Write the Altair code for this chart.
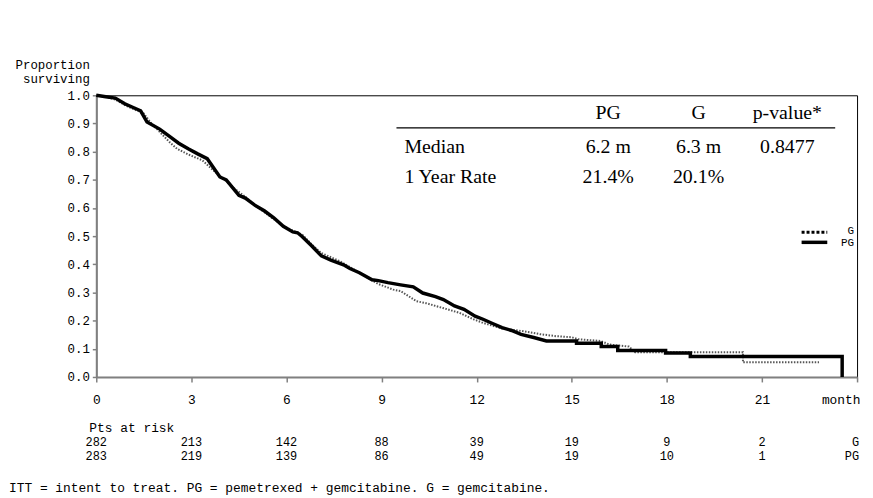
import altair as alt
import pandas as pd

# ---------------- data ----------------
pg_months = [0, 0.3, 0.6, 0.9, 1.2, 1.4, 1.6, 2.0, 2.3, 2.6, 2.9, 3.2, 3.5, 3.9, 4.1, 4.5,
             4.7, 5.0, 5.3, 5.6, 5.9, 6.2, 6.35, 6.5, 6.8, 7.1, 7.4, 7.8, 8.0, 8.3, 8.7, 8.9,
             9.2, 9.6, 10.0, 10.3, 10.7, 10.95, 11.3, 11.6, 11.95, 12.2, 12.5, 12.8, 13.1,
             13.4, 13.8, 14.2, 15.15, 15.15, 15.93, 15.93, 16.45, 16.45, 17.96, 17.96,
             18.74, 18.74, 23.53, 23.53]
pg_surv = [1.0, 0.995, 0.99, 0.97, 0.955, 0.945, 0.905, 0.88, 0.855, 0.83, 0.81, 0.792,
           0.775, 0.71, 0.70, 0.645, 0.635, 0.61, 0.59, 0.565, 0.535, 0.515, 0.512, 0.498,
           0.465, 0.43, 0.415, 0.398, 0.385, 0.37, 0.345, 0.342, 0.335, 0.327, 0.32, 0.298,
           0.285, 0.275, 0.252, 0.24, 0.216, 0.205, 0.19, 0.175, 0.165, 0.151, 0.14, 0.128,
           0.128, 0.12, 0.12, 0.108, 0.108, 0.094, 0.094, 0.085, 0.085, 0.073, 0.073, 0.0]

g_months = [0, 0.3, 0.6, 0.9, 1.2, 1.5, 1.7, 2.0, 2.3, 2.55, 2.9, 3.35, 3.7, 4.1, 4.4,
            4.7, 5.0, 5.3, 5.6, 5.9, 6.2, 6.5, 6.8, 7.1, 7.4, 7.7, 8.0, 8.3, 8.6, 8.9, 9.37,
            9.6, 10.1, 10.4, 10.93, 11.45, 11.9, 12.2, 12.5, 12.8, 13.1, 13.43, 14.0, 14.5,
            15.0, 15.2, 15.9, 16.2, 16.8, 17.0, 20.4, 20.4, 22.8]
g_surv = [1.0, 0.995, 0.985, 0.965, 0.95, 0.935, 0.905, 0.87, 0.835, 0.81, 0.79, 0.769,
          0.733, 0.695, 0.665, 0.64, 0.61, 0.585, 0.56, 0.535, 0.52, 0.505, 0.47, 0.44,
          0.425, 0.41, 0.39, 0.37, 0.35, 0.33, 0.31, 0.305, 0.269, 0.262, 0.245, 0.228,
          0.205, 0.192, 0.182, 0.172, 0.168, 0.163, 0.152, 0.145, 0.141, 0.134, 0.128,
          0.115, 0.108, 0.088, 0.088, 0.052, 0.052]

x_ticks = [0, 3, 6, 9, 12, 15, 18, 21, 24]
y_ticks = [0.0, 0.1, 0.2, 0.3, 0.4, 0.5, 0.6, 0.7, 0.8, 0.9, 1.0]

risk_months = [0, 3, 6, 9, 12, 15, 18, 21]
risk_g = [282, 213, 142, 88, 39, 19, 9, 2]
risk_pg = [283, 219, 139, 86, 49, 19, 10, 1]

table_header = ["PG", "G", "p-value*"]
table_median = ["6.2 m", "6.3 m", "0.8477"]
table_rate = ["21.4%", "20.1%", ""]
row_labels = ["Median", "1 Year Rate"]

legend_labels = ["G", "PG"]
footnote = "ITT = intent to treat. PG = pemetrexed + gemcitabine. G = gemcitabine."

# ---------------- layout constants ----------------
MONO = "Liberation Mono"
SERIF = "Liberation Serif"
col_x = [16.15, 19.0, 21.8]
label_x = 9.72
row_y = [0.937, 0.817, 0.711]
rule_y = 0.884
rule_x = (9.47, 23.31)

xs = alt.Scale(domain=[0, 24], nice=False, zero=False)
ys = alt.Scale(domain=[0, 1], nice=False, zero=False)

x_axis = alt.Axis(
    values=x_ticks, title=None, grid=False,
    labelExpr="datum.value == 24 ? 'month' : datum.label",
    labelAlign={"condition": {"test": "datum.value == 24", "value": "right"}, "value": "center"},
    labelOffset={"condition": {"test": "datum.value == 24", "value": 3}, "value": 0},
    labelFont=MONO, labelFontSize=13, labelColor="black", labelPadding=12,
    labelFlush=False, labelOverlap=False,
    tickSize=5, tickColor="#808080", tickWidth=1.5,
    domainColor="#808080", domainWidth=2,
)
y_axis = alt.Axis(
    values=y_ticks, format=".1f", grid=False,
    title=["Proportion", "surviving"], titleAngle=0, titleAlign="right",
    titleBaseline="top", titleX=-7, titleY=-37, titleFont=MONO, titleFontSize=12.5,
    titleFontWeight="normal", titleColor="black", titleLineHeight=14.5,
    labelFont=MONO, labelFontSize=12.5, labelColor="black", labelPadding=3,
    labelFlush=False, labelOverlap=False,
    tickSize=4, tickColor="#808080", tickWidth=1.5,
    domainColor="#808080", domainWidth=2,
)


def X(field):
    return alt.X(field, scale=xs, axis=x_axis)


def Y(field):
    return alt.Y(field, scale=ys, axis=y_axis)


pg_df = pd.DataFrame({"m": pg_months, "s": pg_surv})
g_df = pd.DataFrame({"m": g_months, "s": g_surv})

g_line = alt.Chart(g_df).mark_line(
    color="#555555", strokeWidth=2, strokeDash=[1.5, 1.5]
).encode(x=X("m:Q"), y=Y("s:Q"))
pg_line = alt.Chart(pg_df).mark_line(
    color="black", strokeWidth=3.5, strokeJoin="miter"
).encode(x=X("m:Q"), y=Y("s:Q"))

# table
rows = []
for i in range(3):
    rows.append({"x": col_x[i], "y": row_y[0], "t": table_header[i]})
    rows.append({"x": col_x[i], "y": row_y[1], "t": table_median[i]})
    rows.append({"x": col_x[i], "y": row_y[2], "t": table_rate[i]})
tab_df = pd.DataFrame(rows)
tab_text = alt.Chart(tab_df).mark_text(
    font=SERIF, fontSize=20, color="black", align="center", baseline="middle"
).encode(x=X("x:Q"), y=Y("y:Q"), text="t:N")
lab_df = pd.DataFrame({"x": [label_x] * 2, "y": row_y[1:], "t": row_labels})
lab_text = alt.Chart(lab_df).mark_text(
    font=SERIF, fontSize=20, color="black", align="left", baseline="middle"
).encode(x=X("x:Q"), y=Y("y:Q"), text="t:N")
rule_df = pd.DataFrame({"x": [rule_x[0]], "x2": [rule_x[1]], "y": [rule_y]})
tab_rule = alt.Chart(rule_df).mark_rule(color="black", strokeWidth=1.2).encode(
    x=X("x:Q"), x2="x2:Q", y=Y("y:Q")
)

# legend
leg_df = pd.DataFrame({"x": [22.25, 22.25], "x2": [23.06, 23.06], "y": [0.514, 0.478],
                       "t": legend_labels, "ty": [0.518, 0.474]})
leg_g = alt.Chart(leg_df[leg_df.t == "G"]).mark_rule(
    color="black", strokeWidth=3, strokeDash=[3, 2]
).encode(x=X("x:Q"), x2="x2:Q", y=Y("y:Q"))
leg_pg = alt.Chart(leg_df[leg_df.t == "PG"]).mark_rule(
    color="black", strokeWidth=3.5
).encode(x=X("x:Q"), x2="x2:Q", y=Y("y:Q"))
leg_text = alt.Chart(leg_df).mark_text(
    font=MONO, fontSize=11, color="black", align="right", baseline="middle", dx=-3
).encode(x=alt.value(767), y=Y("ty:Q"), text="t:N")

# patients at risk
risk_g_df = pd.DataFrame({"m": risk_months, "n": [str(v) for v in risk_g]})
risk_pg_df = pd.DataFrame({"m": risk_months, "n": [str(v) for v in risk_pg]})
risk_g_text = alt.Chart(risk_g_df).mark_text(
    font=MONO, fontSize=12, color="black", align="center", baseline="middle"
).encode(x=X("m:Q"), y=alt.value(350), text="n:N")
risk_pg_text = alt.Chart(risk_pg_df).mark_text(
    font=MONO, fontSize=12, color="black", align="center", baseline="middle"
).encode(x=X("m:Q"), y=alt.value(364), text="n:N")
row_lab_g = alt.Chart(pd.DataFrame({"t": ["G"]})).mark_text(
    font=MONO, fontSize=12, color="black", align="right", baseline="middle"
).encode(x=alt.value(769), y=alt.value(350), text="t:N")
row_lab_pg = alt.Chart(pd.DataFrame({"t": ["PG"]})).mark_text(
    font=MONO, fontSize=12, color="black", align="right", baseline="middle"
).encode(x=alt.value(769), y=alt.value(364), text="t:N")
pts_title = alt.Chart(pd.DataFrame({"t": ["Pts at risk"]})).mark_text(
    font=MONO, fontSize=13, color="black", align="left", baseline="middle"
).encode(x=alt.value(-7), y=alt.value(335), text="t:N")
foot = alt.Chart(pd.DataFrame({"t": [footnote]})).mark_text(
    font=MONO, fontSize=13, color="black", align="left", baseline="middle"
).encode(x=alt.value(-88), y=alt.value(396), text="t:N")

chart = alt.layer(
    g_line, pg_line, tab_rule, tab_text, lab_text, leg_g, leg_pg, leg_text,
    risk_g_text, risk_pg_text, row_lab_g, row_lab_pg, pts_title, foot
).properties(
    width=767, height=284,
    autosize=alt.AutoSizeParams(type="none"),
    padding={"left": 89, "top": 86, "right": 8, "bottom": 120},
    background="white",
).configure_view(stroke="black", strokeWidth=1)

chart.save("out.html", embed_options={"renderer": "svg", "actions": False})
